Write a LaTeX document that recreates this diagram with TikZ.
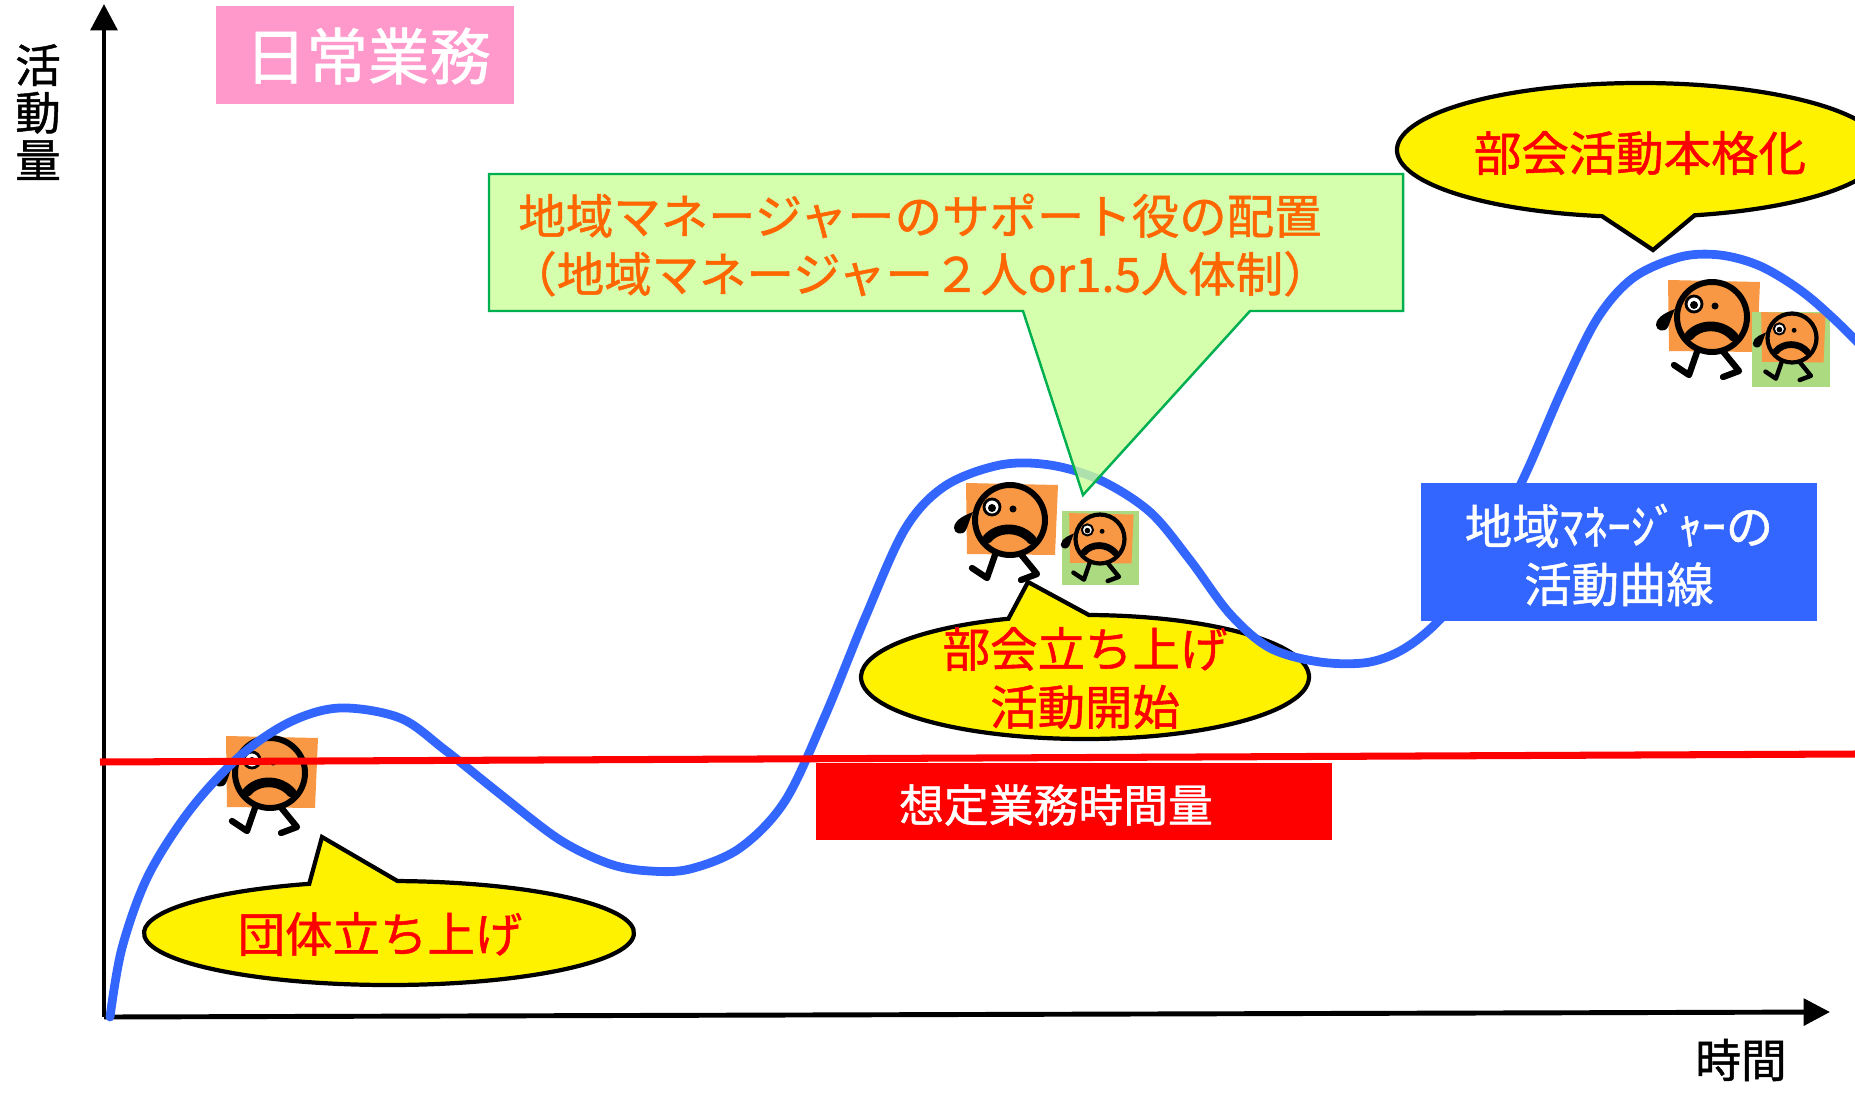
\documentclass[tikz,border=0pt]{standalone}
\usepackage{fontspec}
\setmainfont{Noto Sans CJK JP}[FakeBold=1]
\usetikzlibrary{arrows.meta}

\definecolor{curveblue}{RGB}{51,102,255}
\definecolor{notepink}{RGB}{255,153,204}
\definecolor{notegreen}{RGB}{204,255,153}
\definecolor{edgegreen}{RGB}{0,176,80}
\definecolor{textorange}{RGB}{255,102,0}
\definecolor{skin}{RGB}{248,152,68}
\definecolor{leaf}{RGB}{172,218,128}

\begin{document}
\begin{tikzpicture}[
    x=0.02cm,y=-0.02cm,
    axis/.style={line width=2.8pt, -{Triangle[length=15pt,width=15pt]}},
    bubble/.style={draw, fill=yellow, line width=2.4pt, line join=miter},
    bubtext/.style={font=\fontsize{27}{33}\selectfont, text=red, align=center, inner sep=0pt},
    plate/.style={font=\fontsize{27}{33}\selectfont, text=white, align=center, inner sep=0pt},
    axlabel/.style={font=\fontsize{26}{27}\selectfont, align=center, inner sep=0pt},
    pics/worker/.style={code={
      \begin{scope}[scale=#1, line cap=round, line join=round]
        % card behind the figure
        \fill[skin] (-44,-37) -- (48,-35) -- (45,35) -- (-43,34) -- cycle;
        % legs
        \draw[line width=#1*3.6pt] (-14,32) -- (-23,58) -- (-38,48);
        \draw[line width=#1*3.6pt] (9,32) -- (27,54) -- (11,60);
        % head, eyes, mouth
        \draw[line width=#1*3.4pt, fill=skin] (0,0) circle[radius=35];
        \draw[line width=#1*1.6pt, fill=white] (-18,-13) circle[radius=8];
        \fill (-18,-12) circle[radius=4];
        \fill (3,-11) circle[radius=3.5];
        \draw[line width=#1*5.5pt] (-23,19) .. controls (-12,6) and (10,6) .. (22,20);
        % sweat drop
        \fill (-37,-8) .. controls (-42,-6) and (-56,-1) .. (-56,8)
              .. controls (-56,14) and (-47,16) .. (-44,10)
              .. controls (-42,6) and (-40,-2) .. (-37,-8) -- cycle;
      \end{scope}
    }}
]
\useasboundingbox (0,0) rectangle (1855,1095);

% axes
\coordinate (origin) at (104,1017);
\coordinate (ytop) at (104,4);
\coordinate (xend) at (1830,1012);
\draw[axis] (origin) -- (ytop);
\draw[axis] (origin) -- (xend);
\node[axlabel] (ylab) at (38,112) {活\\動\\量};
\node[axlabel] (xlab) at (1741,1060) {時間};

% speech bubbles below the curve
\coordinate (bubAc) at (389,933);
\coordinate (bubBc) at (1085,677);
\draw[bubble] (322,837) -- ([shift={(272:245 and 52)}]bubAc)
  arc[start angle=272, end angle=611, x radius=245, y radius=52] -- cycle;
\draw[bubble] (1028,582) -- ([shift={(271:224 and 62)}]bubBc)
  arc[start angle=271, end angle=610, x radius=224, y radius=62] -- cycle;
\node[bubtext] (founding) at (380,934) {団体立ち上げ};
\node[bubtext] (launch) at (1085,678) {部会立ち上げ\\活動開始};

% staff figures
\pic at (270,773) {worker=1};
\pic at (1010,520) {worker=1};
\fill[leaf] (1062,511) rectangle (1139,585);
\pic at (1100,539) {worker=0.7};
\pic at (1712,317) {worker=1};
\fill[leaf] (1752,312) rectangle (1830,387);
\pic at (1792,338) {worker=0.7};

% activity curve
\draw[curveblue, line width=5pt, line cap=round] plot[smooth, tension=0.55] coordinates {
  (110,1017) (122,948) (148,876) (190,810) (240,756) (290,722) (340,708)
  (400,718) (445,750) (500,794) (560,840) (610,864) (650,871) (690,869)
  (740,848) (785,801) (825,716) (865,618) (905,529) (945,486) (1000,465)
  (1050,465) (1100,480) (1150,512) (1190,560) (1230,614) (1270,648)
  (1320,662) (1370,662) (1410,645) (1450,608) (1490,545) (1526,473)
  (1562,390) (1597,319) (1633,278) (1680,257) (1720,255) (1760,266)
  (1800,290) (1834,319) (1870,355)};

% assumed working time
\draw[red, line width=4pt] (100,762) -- (1855,754);
\fill[red] (816,763) rectangle (1332,840);
\node[plate, font=\fontsize{25.5}{30}\selectfont] (quota) at (1056,805) {想定業務時間量};

% support callout
\draw[fill=notegreen, fill opacity=0.8, draw=edgegreen, line width=1.4pt]
  (489,174) -- (1403,174) -- (1403,311) -- (1250,311) -- (1083,495)
  -- (1023,311) -- (489,311) -- cycle;
\node[bubtext, text=textorange] (support) at (920,245)
  {地域マネージャーのサポート役の配置\\（地域マネージャー２人or1.5人体制）};

% full-scale bubble
\coordinate (bubCc) at (1640,150);
\draw[bubble] (1653,250) -- ([shift={(77:243 and 67)}]bubCc)
  arc[start angle=77, end angle=-261, x radius=243, y radius=67] -- cycle;
\node[bubtext] (fullscale) at (1640,153) {部会活動本格化};

% curve legend
\fill[curveblue] (1421,483) rectangle (1817,621);
\node[plate] (mgrcurve) at (1619,555) {地域ﾏﾈｰｼﾞｬｰの\\活動曲線};

% title tag
\fill[notepink] (216,6) rectangle (514,104);
\node[plate, font=\fontsize{35}{40}\selectfont] (daily) at (368,56) {日常業務};
\end{tikzpicture}
\end{document}
